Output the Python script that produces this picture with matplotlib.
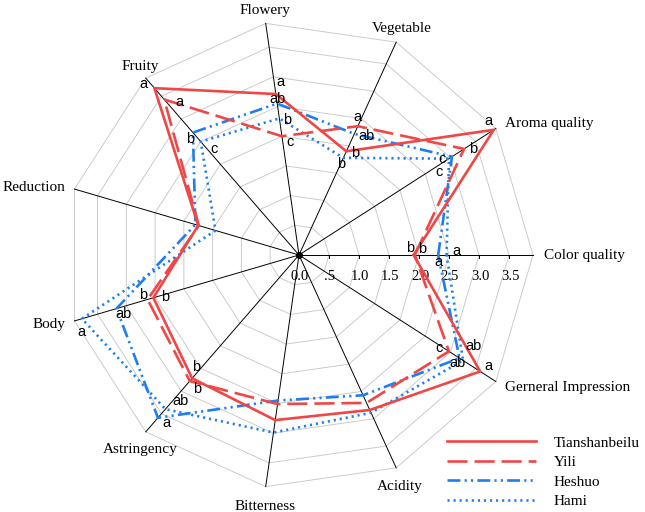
import numpy as np
import matplotlib.pyplot as plt

plt.rcParams['font.family'] = ['Liberation Serif', 'DejaVu Serif']

# attributes, counter-clockwise from the right
features = ['Color quality', 'Aroma quality', 'Vegetable', 'Flowery', 'Fruity',
            'Reduction', 'Body', 'Astringency', 'Bitterness', 'Acidity',
            'Gerneral Impression']

tianshanbeilu = [1.91, 3.86, 1.90, 2.71, 3.68, 1.75, 2.53, 2.72, 2.78, 2.84, 3.59]
yili          = [1.93, 3.27, 2.36, 2.00, 3.43, 1.74, 2.63, 2.78, 2.51, 2.71, 2.97]
heshuo        = [2.32, 3.03, 2.22, 2.55, 2.70, 1.80, 3.17, 3.59, 2.45, 2.57, 3.18]
hami          = [2.46, 2.97, 1.78, 2.30, 2.50, 1.45, 3.77, 3.40, 2.99, 2.89, 3.25]

# significance letters ('' = none)
letters_tian = ['b', 'a', 'b', 'a', 'a', '', 'b', 'b', '', '', 'a']
letters_yili = ['b', 'b', 'a', 'c', 'a', '', 'b', 'b', '', '', 'c']
letters_hesh = ['a', 'c', 'ab', 'ab', 'b', '', 'ab', 'a', '', '', 'ab']
letters_hami = ['a', 'c', 'b', 'b', 'c', '', 'a', 'ab', '', '', 'ab']

tick_values = [0.0, 0.5, 1.0, 1.5, 2.0, 2.5, 3.0, 3.5]
tick_labels = ['0.0', '.5', '1.0', '1.5', '2.0', '2.5', '3.0', '3.5']
r_max = 3.9

# letter offsets in pixels (dx right, dy down) from each vertex
off_tian = [(-3, -7), (-5, -9), (9, 2), (5, -12), (-11, -4), None, (12, -1), (4, -11), None, None, (8, -5)]
off_yili = [(7, -6), (9, 0), (0, -9), (8, 6), (15, 3), None, (-4, -4), (7, 8), None, None, (-10, -3)]
off_hesh = [(0, 7), (-10, 2), (12, 2), (0, -5), (-3, 6), None, (7, 5), (8, 5), None, None, (-2, 5)]
off_hami = [(10, -4), (-10, 13), (-2, 6), (8, 2), (13, 7), None, (-1, 13), (15, -8), None, None, (10, -14)]

# axis label offsets in pixels from axis end, and alignment
lab_off = [(11, 0, 'left'), (9, -4.5, 'left'), (6, -14, 'center'), (-1, -13, 'center'),
           (-6, -12, 'center'), (-9.5, -2, 'right'), (-9.5, 4, 'right'), (-6, 18, 'center'),
           (-1, 19.5, 'center'), (4, 19, 'center'), (9, 5.5, 'left')]

red = '#F04646'
blue = '#1E7EF0'

fig = plt.figure(figsize=(6.45, 5.12), dpi=100)
ax = fig.add_axes([0, 0, 1, 1])
ax.set_xlim(-299 / 60, 346 / 60)
ax.set_ylim(-257 / 60, 255 / 60)
ax.axis('off')

n = len(features)
theta = np.arange(n) * 2 * np.pi / n
tc = np.append(theta, theta[0])

# grid rings
for r in tick_values[1:] + [r_max]:
    ax.plot(r * np.cos(tc), r * np.sin(tc), color='#c8c8c8', lw=0.65, zorder=1)
# spokes
for t in theta:
    ax.plot([0, r_max * np.cos(t)], [0, r_max * np.sin(t)], color='black', lw=0.7, zorder=2)
ax.plot(0, 0, 'o', color='black', ms=4, zorder=3)

for v, s in zip(tick_values, tick_labels):
    ax.plot([v, v], [0, -3 / 60], color='black', lw=0.7, zorder=2)
    ax.text(v + 1 / 60, -22 / 60, s, ha='center', va='center', fontsize=10.5, zorder=6)

series = [
    ('Tianshanbeilu', tianshanbeilu, '-', red, letters_tian, off_tian),
    ('Yili', yili, (0, (7.6, 2.65)), red, letters_yili, off_yili),
    ('Heshuo', heshuo, (0, (4.9, 1.6, 0.8, 1.6, 0.8, 1.6)), blue, letters_hesh, off_hesh),
    ('Hami', hami, (0, (0.8, 1.5)), blue, letters_hami, off_hami),
]

handles = []
for i, (name, vals, ls, col, lets, offs) in enumerate(series):
    v = np.append(vals, vals[0])
    h, = ax.plot(v * np.cos(tc), v * np.sin(tc), ls=ls, color=col, lw=1.9,
                 zorder=10 - i, label=name)
    handles.append(h)
    for k in range(n):
        if lets[k]:
            dx, dy = offs[k]
            ax.annotate(lets[k], (vals[k] * np.cos(theta[k]), vals[k] * np.sin(theta[k])),
                        xytext=(dx * 0.72, -dy * 0.72), textcoords='offset points',
                        ha='center', va='center', fontsize=10.5,
                        family='Liberation Sans', zorder=12)

for k in range(n):
    dx, dy, ha = lab_off[k]
    ax.annotate(features[k], (r_max * np.cos(theta[k]), r_max * np.sin(theta[k])),
                xytext=(dx * 0.72, -dy * 0.72), textcoords='offset points',
                ha=ha, va='center', fontsize=11)

ax.legend(handles=handles, loc='upper left', bbox_to_anchor=(447 / 645, 1 - 436 / 512),
          bbox_transform=fig.transFigure, frameon=False, fontsize=11,
          handlelength=5.8, handletextpad=1.2, labelspacing=0.38,
          borderpad=0, borderaxespad=0)

fig.savefig('out.png', dpi=100)
